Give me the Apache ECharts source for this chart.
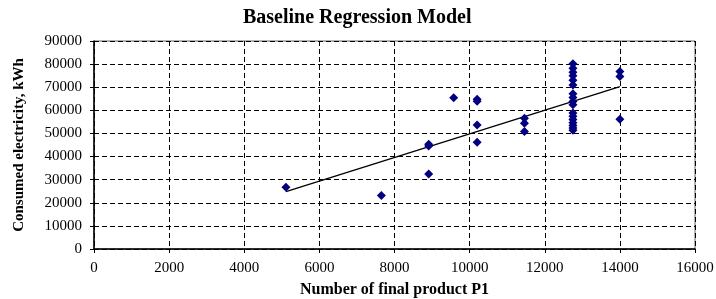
<!DOCTYPE html>
<html>
<head>
<meta charset="utf-8">
<script src="https://cdn.jsdelivr.net/npm/echarts@6/dist/echarts.min.js"></script>
<style>
  html, body { margin: 0; padding: 0; background: #fff; }
  #chart { width: 716px; height: 299px; }
</style>
</head>
<body>
<div id="chart"></div>
<script>
  // observed points: product count, consumed electricity
  const productP1 = [
    5110, 7650, 8910, 8910, 8910, 9575, 10200, 10200, 10200, 10200,
    11460, 11460, 11460,
    12750, 12750, 12750, 12750, 12750, 12750, 12750, 12750, 12750,
    12750, 12750, 12750, 12750, 12750, 12750, 12750, 12750,
    14000, 14000, 14000
  ];
  const electricity = [
    26700, 23200, 44600, 45300, 32500, 65400, 63900, 64800, 53600, 46200,
    56600, 54400, 50800,
    80200, 78200, 76500, 75000, 73000, 71000, 67200, 65600, 63800,
    62400, 58900, 57400, 56000, 54600, 53400, 52400, 51400,
    76800, 74600, 56100
  ];
  // regression line endpoints
  const trendX = [5110, 14000];
  const trendY = [24800, 70300];

  const chart = echarts.init(document.getElementById('chart'));
  const serif = '"Liberation Serif", "DejaVu Serif", serif';

  chart.setOption({
    animation: false,
    textStyle: { fontFamily: serif },
    title: {
      text: 'Baseline Regression Model',
      left: 238,
      top: 3,
      textStyle: { fontFamily: serif, fontSize: 20, fontWeight: 'bold', color: '#000' }
    },
    grid: {
      left: 94, right: 21, top: 41, bottom: 50,
      outerBoundsMode: 'none',
      containLabel: false,
      show: true, borderColor: '#666', borderWidth: 1
    },
    xAxis: {
      type: 'value',
      min: 0, max: 16000, interval: 2000,
      name: 'Number of final product P1',
      nameLocation: 'middle',
      nameGap: 33,
      nameTextStyle: { fontFamily: serif, fontSize: 16, fontWeight: 'bold', color: '#000' },
      axisLine: { show: true, lineStyle: { color: '#000', width: 1.5 } },
      axisTick: { show: true, length: 4, lineStyle: { color: '#000' } },
      axisLabel: { fontFamily: serif, fontSize: 15, color: '#000', margin: 12, formatter: v => String(v) },
      splitLine: { show: true, lineStyle: { color: '#000', type: [5, 3], width: 1 } }
    },
    yAxis: {
      type: 'value',
      min: 0, max: 90000, interval: 10000,
      name: 'Consumed electricity, kWh',
      nameLocation: 'middle',
      nameGap: 67,
      nameTextStyle: { fontFamily: serif, fontSize: 15, fontWeight: 'bold', color: '#000' },
      axisLine: { show: true, lineStyle: { color: '#000', width: 1.5 } },
      axisTick: { show: true, length: 4, lineStyle: { color: '#000' } },
      axisLabel: { fontFamily: serif, fontSize: 15, color: '#000', margin: 12, formatter: v => String(v) },
      splitLine: { show: true, lineStyle: { color: '#000', type: [5, 3], width: 1 } }
    },
    series: [
      {
        type: 'line',
        data: trendX.map((x, i) => [x, trendY[i]]),
        symbol: 'none',
        lineStyle: { color: '#000', width: 1.3 },
        z: 3
      },
      {
        type: 'scatter',
        data: productP1.map((x, i) => [x, electricity[i]]),
        symbol: 'diamond',
        symbolSize: 9,
        itemStyle: { color: '#000080', opacity: 1 },
        z: 4
      }
    ]
  });
</script>
</body>
</html>
